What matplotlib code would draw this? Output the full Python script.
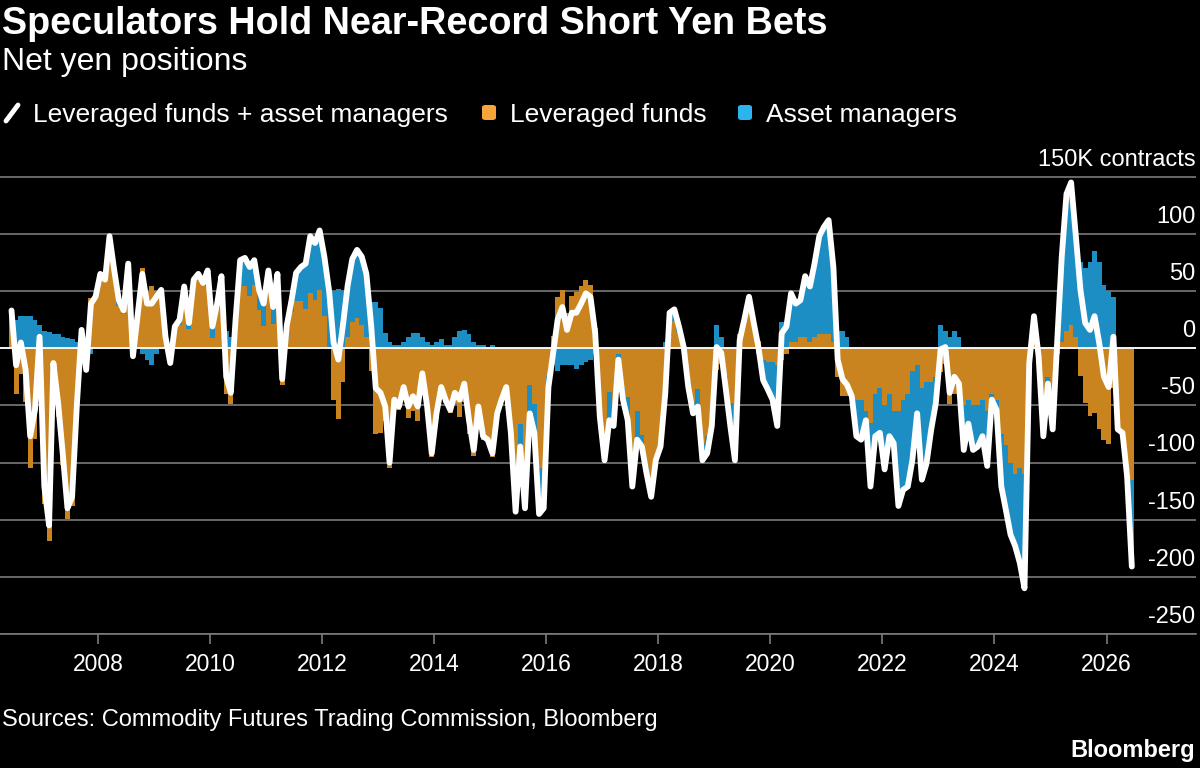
import numpy as np
import pandas as pd
import matplotlib
matplotlib.use("Agg")
import matplotlib.pyplot as plt
from matplotlib import font_manager
from matplotlib.patches import FancyBboxPatch
from matplotlib.lines import Line2D
from matplotlib.transforms import ScaledTranslation

installed = {f.name for f in font_manager.fontManager.ttflist}
font = 'Liberation Sans' if 'Liberation Sans' in installed else 'DejaVu Sans'
plt.rcParams['font.family'] = [font, 'DejaVu Sans']

# monthly readings, Jun 2006 .. Jun 2026, thousands of contracts
dates = pd.date_range('2006-06-01', periods=241, freq='MS') + pd.Timedelta(days=14)

total = [33, -15, 5, -19, -77, -54, 10, -121, -155, -13,
         -48, -92, -140, -130, -50, 16, -19, 39, 45, 65,
         60, 98, 68, 42, 33, 74, -7, 30, 65, 39,
         39, 45, 51, 10, -13, 19, 25, 54, 22, 60,
         65, 57, 68, 19, 39, 63, -25, -39, 25, 77,
         79, 71, 77, 51, 39, 68, 36, 65, -27, 20,
         42, 66, 71, 74, 98, 92, 103, 80, 50, 5,
         -10, 20, 55, 78, 86, 80, 65, 20, -35, -39,
         -51, -100, -45, -51, -34, -51, -42, -51, -22, -51,
         -92, -57, -34, -45, -54, -39, -45, -31, -63, -89,
         -51, -77, -80, -92, -57, -45, -34, -74, -143, -86,
         -140, -57, -74, -145, -140, -34, -4, 25, 36, 16,
         31, 31, 39, 48, 45, 13, -60, -98, -63, -68,
         -10, -45, -63, -121, -80, -86, -109, -130, -98, -86,
         -39, 31, 34, 19, 1, -34, -57, -51, -98, -92,
         -68, 1, -4, -34, -68, -98, 7, 25, 45, 22,
         1, -28, -36, -45, -68, 13, 19, 48, 39, 42,
         63, 54, 74, 98, 106, 112, 71, -10, -27, -32,
         -42, -77, -80, -63, -121, -77, -74, -106, -77, -83,
         -138, -124, -121, -98, -57, -115, -101, -71, -48, -1,
         1, -39, -25, -31, -89, -66, -89, -86, -77, -103,
         -45, -54, -121, -141, -163, -173, -188, -210, -13, 28,
         -7, -77, -31, -71, 10, 80, 135, 145, 98, 51,
         22, 16, 28, 4, -25, -34, 10, -71, -74, -112, -191]

asset_mgrs = [5, 25, 28, 28, 28, 25, 20, 15, 14, 12,
              12, 10, 9, 8, 5, 0, 0, -5, 0, 0,
              0, 0, 5, 5, 3, 0, 0, 0, -5, -10,
              -15, -5, 0, 5, 0, 3, 5, 0, 5, 0,
              0, 3, 0, 10, 5, 10, 15, 10, 12, 18,
              25, 25, 22, 18, 20, 20, 15, 10, 5, 10,
              10, 25, 30, 40, 50, 50, 52, 52, 50, 50,
              52, 50, 45, 55, 60, 60, 55, 40, 40, 35,
              13, 5, 3, 3, 5, 10, 13, 13, 10, 5,
              3, 5, 8, 3, 3, 10, 15, 16, 12, 5,
              3, 3, 0, 3, 0, 0, 0, -5, -15, -20,
              -40, -25, -25, -40, -30, -10, -15, -20, -15, -15,
              -15, -18, -15, -12, -10, -5, -10, -20, -25, -20,
              -5, -10, -20, -25, -25, -10, -5, -5, 0, 0,
              5, 20, 10, 5, 0, -5, -10, -15, -15, -15,
              -10, 20, 10, -10, -20, -20, -5, 0, 0, 0,
              -5, -18, -24, -33, -53, 23, 24, 43, 34, 32,
              53, 49, 64, 86, 94, 100, 66, 15, 15, 10,
              -2, -32, -35, -8, -56, -37, -39, -56, -37, -28,
              -83, -79, -81, -78, -42, -80, -71, -41, -23, 20,
              15, 10, 15, 10, -39, -21, -39, -36, -32, -48,
              -5, -9, -46, -56, -63, -63, -83, -100, -3, 13,
              -2, -22, -6, -16, 15, 75, 120, 125, 88, 75,
              70, 75, 85, 75, 55, 50, 45, 0, 0, -5, -76]

year_ticks = [2008, 2010, 2012, 2014, 2016, 2018, 2020, 2022, 2024, 2026]
y_ticks = [150, 100, 50, 0, -50, -100, -150, -200, -250]
y_labels = ['150K contracts', '100', '50', '0', '-50', '-100', '-150', '-200', '-250']

ORANGE = '#c9831f'
BLUE = '#1d8ec4'
GRID = '#7a7a7a'

total = np.array(total, dtype=float)
am = np.array(asset_mgrs, dtype=float)
lev = total - am
# diverging stack: orange next to zero, blue beyond it when same sign
blue_bottom = np.where(np.sign(am) == np.sign(lev), lev, 0)

W, H = 1200, 768
fig = plt.figure(figsize=(12, 7.68), dpi=100, facecolor='black')


def px(x, y):
    return x / W, 1 - y / H


ax = fig.add_axes([0, 1 - 634 / H, 0.997, (634 - 171) / H])
ax.set_facecolor('black')

ax.bar(dates, lev, width=32, color=ORANGE, linewidth=0, zorder=2)
ax.bar(dates, am, bottom=blue_bottom, width=32, color=BLUE, linewidth=0, zorder=2)
ax.axhline(0, color='white', lw=1.3, zorder=3)
ax.plot(dates, total, color='white', lw=4.2, solid_capstyle='round',
        solid_joinstyle='round', zorder=4)

ax.set_ylim(-250, 155)
ax.set_xlim(pd.Timestamp('2006-04-01'), pd.Timestamp('2027-08-10'))
ax.set_yticks(y_ticks)
ax.yaxis.grid(True, color=GRID, lw=1.2)
ax.set_axisbelow(True)
ax.tick_params(axis='y', length=0, labelleft=False, labelright=False)
for side in ['top', 'left', 'right']:
    ax.spines[side].set_visible(False)
ax.spines['bottom'].set_color(GRID)
ax.spines['bottom'].set_linewidth(1.2)

ax.set_xticks([pd.Timestamp(f'{y}-01-01') for y in year_ticks])
ax.set_xticklabels([str(y) for y in year_ticks])
ax.tick_params(axis='x', colors=GRID, labelcolor='white', length=7, width=1.2,
               pad=7, labelsize=16.5)

off = ScaledTranslation(0, 8 / 72, fig.dpi_scale_trans)
for v, lab in zip(y_ticks, y_labels):
    ax.text(0.999, v, lab, transform=ax.get_yaxis_transform() + off,
            ha='right', va='baseline', color='white', fontsize=17)

# header
fig.text(*px(2, 34), 'Speculators Hold Near-Record Short Yen Bets', color='white',
         fontsize=27.2, fontweight='bold', va='baseline')
fig.text(*px(2, 70), 'Net yen positions', color='white', fontsize=23, va='baseline')

# legend
fig.add_artist(Line2D([6 / W, 18 / W], [1 - 121 / H, 1 - 105 / H], color='white',
                      lw=3.5, solid_capstyle='round'))
fig.text(*px(33, 122), 'Leveraged funds + asset managers', color='white', fontsize=19, va='baseline')
for x0, col, lab in [(482, '#f7a43a', 'Leveraged funds'), (738, '#2cb4ef', 'Asset managers')]:
    fig.add_artist(FancyBboxPatch(px(x0, 120), 14 / W, 15 / H,
                                  boxstyle='round,pad=0,rounding_size=0.003',
                                  transform=fig.transFigure, color=col, lw=0))
    fig.text(*px(x0 + 28, 122), lab, color='white', fontsize=19, va='baseline')

# footer
fig.text(*px(2, 726), 'Sources: Commodity Futures Trading Commission, Bloomberg',
         color='white', fontsize=17, va='baseline')
fig.text(*px(1195, 757), 'Bloomberg', color='white', fontsize=17, fontweight='bold',
         ha='right', va='baseline')

fig.savefig('out.png', dpi=100, facecolor='black')
